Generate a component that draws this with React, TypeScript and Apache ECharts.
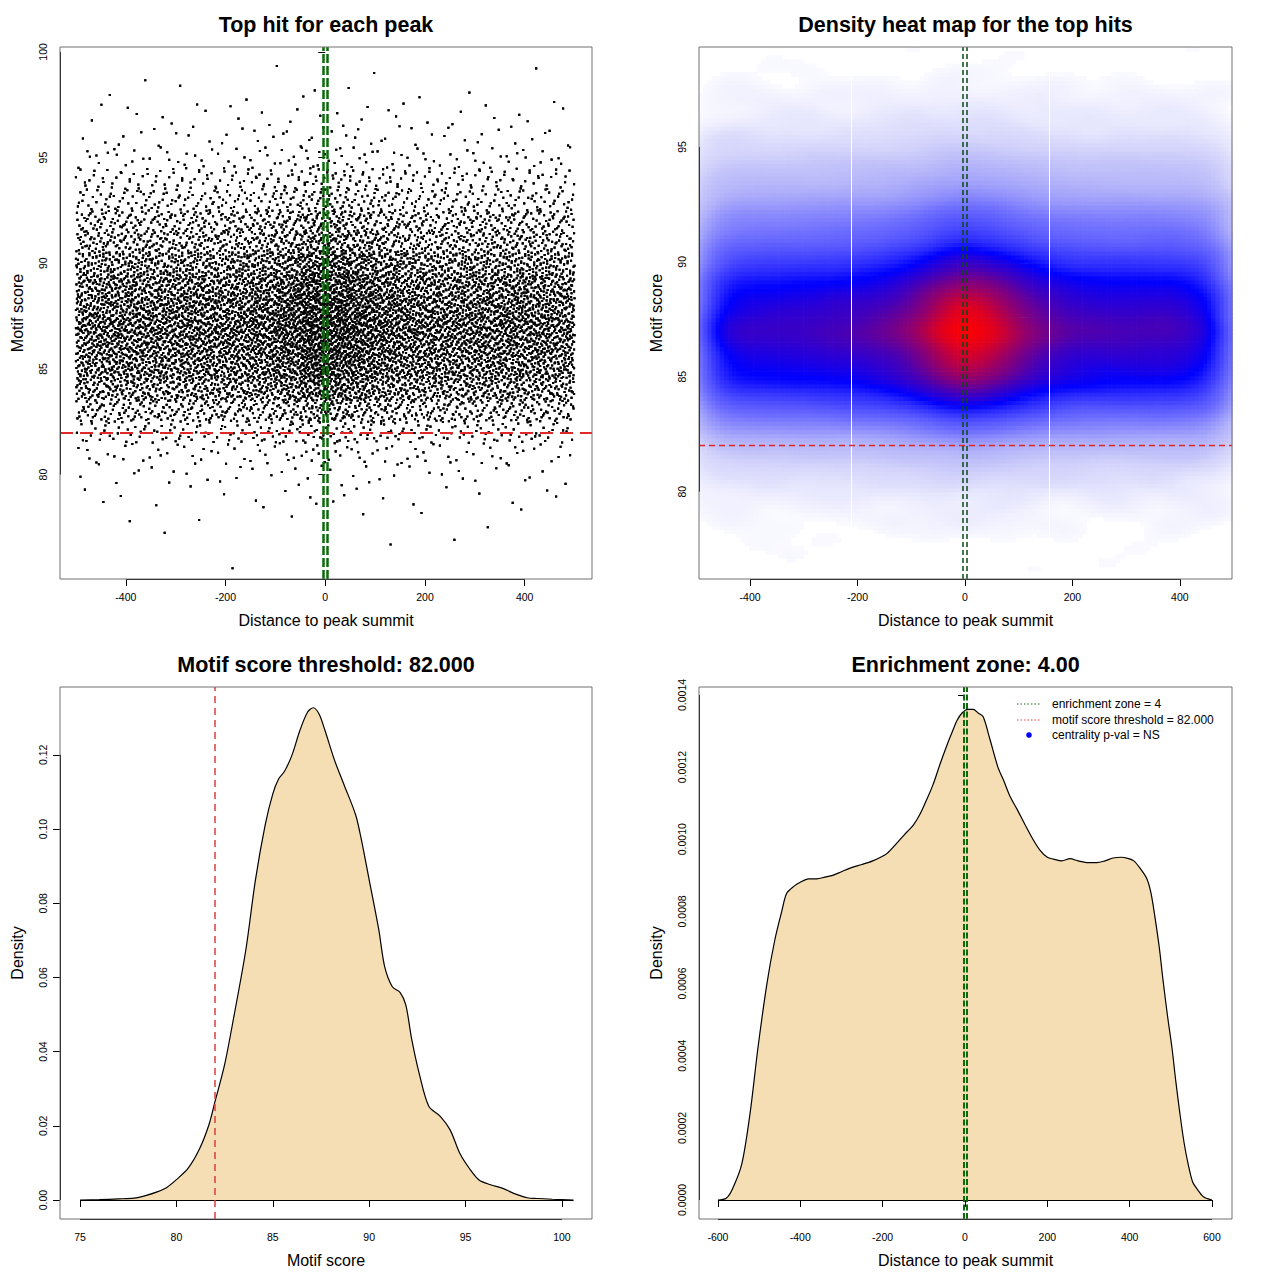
import React, { useEffect, useRef } from "react";
import * as echarts from "echarts";

const FONT = "'Liberation Sans', Arial, Helvetica, sans-serif";

// ---------- data ----------
// Top hits: number of hits per motif-score row (row centre, rows 1 unit tall)
const scoreRows = [76, 77, 78, 79, 80, 81, 82, 83, 84, 85, 86, 87, 88, 89, 90, 91, 92, 93, 94, 95, 96, 97, 98, 99];
const hitsPerScoreRow = [1, 3, 8, 20, 40, 85, 205, 490, 850, 1130, 1240, 1370, 1265, 1115, 890, 620, 490, 280, 190, 92, 46, 28, 11, 4];
// Relative frequency of hits per 50 bp distance bin (bins start at these values)
const distanceBinStarts = [-500, -450, -400, -350, -300, -250, -200, -150, -100, -50, 0, 50, 100, 150, 200, 250, 300, 350, 400, 450];
const distanceBinWeights = [0.86, 0.88, 0.89, 0.9, 0.92, 0.94, 0.97, 1.04, 1.15, 1.38, 1.38, 1.22, 1.08, 0.98, 0.94, 0.94, 0.93, 0.95, 0.9, 0.85];

// Density of motif scores (panel 3)
const scoreDensityCurve: [number, number][] = [
  [75, 0], [76, 0.0001], [77, 0.0003], [77.8, 0.0005], [78.4, 0.0012], [79.0, 0.0022], [79.5, 0.0034],
  [80.0, 0.0055], [80.6, 0.0085], [81.2, 0.0138], [81.7, 0.0205], [82.0, 0.0265], [82.5, 0.0365],
  [83.0, 0.05], [83.6, 0.0674], [84.1, 0.0863], [84.6, 0.101], [85.0, 0.1095], [85.3, 0.1135],
  [85.6, 0.1155], [86.0, 0.12], [86.4, 0.1265], [86.8, 0.1315], [87.1, 0.1327], [87.4, 0.131],
  [87.7, 0.1267], [88.2, 0.1186], [88.7, 0.1119], [89.3, 0.1038], [89.6, 0.097], [90.0, 0.0863],
  [90.5, 0.0728], [90.8, 0.063], [91.2, 0.0575], [91.6, 0.056], [91.9, 0.0526], [92.2, 0.0435],
  [92.6, 0.034], [93.1, 0.0252], [93.7, 0.0225], [94.2, 0.0189], [94.7, 0.0126], [95.2, 0.0085],
  [95.7, 0.0054], [96.3, 0.0041], [96.9, 0.0032], [97.5, 0.0018], [98.2, 0.0006], [98.7, 0.0004],
  [99.5, 0.0002], [100.6, 0],
];

// Density of distances to peak summit (panel 4)
const distanceDensityCurve: [number, number][] = [
  [-600, 0], [-580, 0.000005], [-565, 0.00003], [-542, 0.0001], [-522, 0.00024], [-503, 0.00042],
  [-481, 0.0006], [-462, 0.00072], [-445, 0.0008], [-433, 0.00085], [-415, 0.00087], [-401, 0.00088],
  [-380, 0.00089], [-360, 0.00089], [-340, 0.000895], [-321, 0.0009], [-300, 0.00091], [-279, 0.00092],
  [-250, 0.00093], [-224, 0.00094], [-205, 0.00095], [-190, 0.00096], [-165, 0.00099], [-141, 0.00102],
  [-125, 0.00104], [-109, 0.00107], [-93, 0.00111], [-78, 0.00115], [-60, 0.00121], [-44, 0.00126],
  [-30, 0.0013], [-19, 0.00133], [-7, 0.00135], [7, 0.00136], [20, 0.00136], [32, 0.00135],
  [44, 0.00134], [60, 0.00128], [80, 0.0012], [95, 0.00116], [109, 0.00112], [128, 0.00108],
  [146, 0.00104], [165, 0.001], [182, 0.00097], [200, 0.00095], [215, 0.000945], [235, 0.00094],
  [255, 0.000946], [275, 0.00094], [300, 0.000935], [320, 0.000935], [340, 0.00094], [360, 0.000948],
  [380, 0.00095], [395, 0.000947], [410, 0.00094], [425, 0.00092], [442, 0.00089], [452, 0.00085],
  [462, 0.00078], [472, 0.0007], [481, 0.00061], [492, 0.00051], [503, 0.00042], [512, 0.00033],
  [522, 0.00024], [532, 0.00016], [542, 0.0001], [553, 0.00005], [564, 0.00003], [580, 0.000008], [600, 0],
];

const scoreThreshold = 82;
const enrichmentZone = 4;

const distanceTicks = [-400, -200, 0, 200, 400];
const scoreTicksTop = [80, 85, 90, 95, 100];
const scoreTicksHeat = [80, 85, 90, 95];
const scoreTicksX = [75, 80, 85, 90, 95, 100];
const scoreDensityTicks = [0, 0.02, 0.04, 0.06, 0.08, 0.1, 0.12];
const distanceTicksWide = [-600, -400, -200, 0, 200, 400, 600];
const distanceDensityTicks = [0, 0.0002, 0.0004, 0.0006, 0.0008, 0.001, 0.0012, 0.0014];

const titles = ["Top hit for each peak", "Density heat map for the top hits", "Motif score threshold: 82.000", "Enrichment zone: 4.00"];
const legendLabels = ["enrichment zone = 4", "motif score threshold = 82.000", "centrality p-val = NS"];

// ---------- derived ----------
function halton(i: number, b: number) {
  let f = 1, r = 0;
  while (i > 0) {
    f /= b;
    r += f * (i % b);
    i = Math.floor(i / b);
  }
  return r;
}

function buildHits(): number[][] {
  const total = distanceBinWeights.reduce((a, b) => a + b, 0);
  const cum: number[] = [];
  let c = 0;
  for (const w of distanceBinWeights) {
    c += w / total;
    cum.push(c);
  }
  const pts: number[][] = [];
  let g = 17;
  scoreRows.forEach((s, i) => {
    const n = hitsPerScoreRow[i];
    for (let k = 0; k < n; k++) {
      g++;
      const u = halton(g, 2);
      const v = halton(g, 3);
      let j = 0;
      while (j < cum.length - 1 && cum[j] < u) j++;
      const lo = j === 0 ? 0 : cum[j - 1];
      const frac = (u - lo) / (cum[j] - lo);
      const x = distanceBinStarts[j] + frac * 50;
      const y = s - 0.5 + v;
      pts.push([Math.round(x), Math.round(y * 100) / 100]);
    }
  });
  return pts;
}

const HX0 = -495, HX1 = 497, HY0 = 76.2, HY1 = 99.35, NX = 128, NY = 128;
const HDX = (HX1 - HX0) / NX;
const HDY = (HY1 - HY0) / NY;

function gaussKernel(s: number) {
  const R = Math.ceil(3 * s);
  const k: number[] = [];
  let sum = 0;
  for (let i = -R; i <= R; i++) {
    const v = Math.exp((-0.5 * i * i) / (s * s));
    k.push(v);
    sum += v;
  }
  return { R, k: k.map((v) => v / sum) };
}

// Smoothed 2D density of the hits, expressed relative to the density of the flank band
function buildHeat(pts: number[][]): number[][] {
  const grid = new Float64Array(NX * NY);
  for (const p of pts) {
    const ix = Math.floor((p[0] - HX0) / HDX);
    const iy = Math.floor((p[1] - HY0) / HDY);
    if (ix >= 0 && ix < NX && iy >= 0 && iy < NY) grid[iy * NX + ix] += 1;
  }
  const kx = gaussKernel(36 / HDX);
  const ky = gaussKernel(0.42 / HDY);
  const tmp = new Float64Array(NX * NY);
  for (let iy = 0; iy < NY; iy++) {
    for (let ix = 0; ix < NX; ix++) {
      let s = 0;
      for (let q = -kx.R; q <= kx.R; q++) {
        const jx = ix + q;
        if (jx >= 0 && jx < NX) s += grid[iy * NX + jx] * kx.k[q + kx.R];
      }
      tmp[iy * NX + ix] = s;
    }
  }
  const out = new Float64Array(NX * NY);
  let side = 0;
  for (let iy = 0; iy < NY; iy++) {
    for (let ix = 0; ix < NX; ix++) {
      let s = 0;
      for (let q = -ky.R; q <= ky.R; q++) {
        const jy = iy + q;
        if (jy >= 0 && jy < NY) s += tmp[jy * NX + ix] * ky.k[q + ky.R];
      }
      out[iy * NX + ix] = s;
      const xc = HX0 + (ix + 0.5) * HDX;
      if (xc > -420 && xc < -230 && s > side) side = s;
    }
  }
  const cells: number[][] = [];
  for (let iy = 0; iy < NY; iy++) {
    for (let ix = 0; ix < NX; ix++) {
      const r = out[iy * NX + ix] / side;
      if (r > 0.008) cells.push([HX0 + (ix + 0.5) * HDX, HY0 + (iy + 0.5) * HDY, Math.round(r * 10000) / 10000]);
    }
  }
  return cells;
}

// colour ramp: white -> blue -> red, keyed on density relative to the flank band
const rampStops: number[][] = [
  [0, 255, 255, 255], [0.02, 241, 241, 255], [0.055, 220, 220, 252], [0.12, 196, 196, 250],
  [0.2, 176, 176, 250], [0.3, 146, 146, 252], [0.42, 112, 112, 255], [0.55, 82, 82, 255],
  [0.7, 40, 40, 255], [0.8, 0, 0, 255], [0.9, 38, 0, 218], [1.0, 70, 0, 184],
  [1.2, 150, 0, 105], [1.35, 222, 0, 33], [1.45, 255, 0, 0],
];
function ramp(t: number) {
  for (let i = 1; i < rampStops.length; i++) {
    if (t <= rampStops[i][0]) {
      const a = rampStops[i - 1], b = rampStops[i];
      const f = (t - a[0]) / (b[0] - a[0]);
      const r = Math.round(a[1] + (b[1] - a[1]) * f);
      const g = Math.round(a[2] + (b[2] - a[2]) * f);
      const bl = Math.round(a[3] + (b[3] - a[3]) * f);
      return `rgb(${r},${g},${bl})`;
    }
  }
  return "rgb(255,0,0)";
}

// ---------- layout ----------
const grids = [
  { left: 60, top: 47, width: 532, height: 532 },
  { left: 699, top: 47, width: 533, height: 532 },
  { left: 60, top: 687, width: 532, height: 532 },
  { left: 699, top: 687, width: 533, height: 532 },
];
const ranges = [
  { x: [-532, 535], y: [75.06, 100.23] },
  { x: [HX0, HX1], y: [HY0, HY1] },
  { x: [73.96, 101.56], y: [-0.00512, 0.1383] },
  { x: [-646, 648.6], y: [-0.0000527, 0.001422] },
];

function valueAxis(gi: number, isY: boolean, ticks: number[], fmt: (v: number) => string, name: string, nameGap: number) {
  const r = isY ? ranges[gi].y : ranges[gi].x;
  return {
    type: "value",
    gridIndex: gi,
    min: r[0],
    max: r[1],
    name,
    nameLocation: "middle",
    nameGap,
    nameTextStyle: { fontSize: 16, color: "#000", fontFamily: FONT },
    axisLine: { show: false },
    axisTick: { show: true, length: 7, lineStyle: { color: "#000", width: 1 }, customValues: ticks },
    axisLabel: {
      show: true,
      fontSize: 10.5,
      color: "#000",
      fontFamily: FONT,
      margin: 12,
      rotate: isY ? 90 : 0,
      customValues: ticks,
      formatter: fmt,
      hideOverlap: false,
    },
    splitLine: { show: false },
  };
}

const intFmt = (v: number) => String(Math.round(v));
const f2 = (v: number) => v.toFixed(2);
const f4 = (v: number) => v.toFixed(4);

function axisSegments(gi: number, xt: number[], yt: number[]) {
  const xr = ranges[gi].x, yr = ranges[gi].y;
  const st = { color: "#000", width: 1, type: "solid" };
  return [
    [{ coord: [xt[0], yr[0]], lineStyle: st }, { coord: [xt[xt.length - 1], yr[0]] }],
    [{ coord: [xr[0], yt[0]], lineStyle: st }, { coord: [xr[0], yt[yt.length - 1]] }],
  ];
}

function buildOption() {
  const hits = buildHits();
  const heat = buildHeat(hits);

  const ml = (data: any[]) => ({
    silent: true,
    symbol: ["none", "none"],
    label: { show: false },
    emphasis: { disabled: true },
    animation: false,
    data,
  });

  const green = "#0b6b0b";
  const red = "#e02828";

  return {
    animation: false,
    backgroundColor: "#fff",
    textStyle: { fontFamily: FONT },
    grid: grids.map((g) => ({ ...g, show: true, borderColor: "#707070", borderWidth: 1, backgroundColor: "transparent", z: 10 })),
    xAxis: [
      valueAxis(0, false, distanceTicks, intFmt, "Distance to peak summit", 33),
      valueAxis(1, false, distanceTicks, intFmt, "Distance to peak summit", 33),
      valueAxis(2, false, scoreTicksX, intFmt, "Motif score", 33),
      valueAxis(3, false, distanceTicksWide, intFmt, "Distance to peak summit", 33),
    ],
    yAxis: [
      valueAxis(0, true, scoreTicksTop, intFmt, "Motif score", 35),
      valueAxis(1, true, scoreTicksHeat, intFmt, "Motif score", 35),
      valueAxis(2, true, scoreDensityTicks, f2, "Density", 35),
      valueAxis(3, true, distanceDensityTicks, f4, "Density", 35),
    ],
    series: [
      {
        type: "scatter",
        xAxisIndex: 0,
        yAxisIndex: 0,
        data: hits,
        symbol: "rect",
        symbolSize: 2.1,
        itemStyle: { color: "#000" },
        large: true,
        largeThreshold: 500,
        silent: true,
        markLine: ml([
          { yAxis: scoreThreshold, lineStyle: { color: red, width: 2, type: [13, 7] } },
          { xAxis: -enrichmentZone, lineStyle: { color: green, width: 2.5, type: [9, 3] } },
          { xAxis: enrichmentZone, lineStyle: { color: green, width: 2.5, type: [9, 3] } },
          ...axisSegments(0, distanceTicks, scoreTicksTop),
        ]),
      },
      {
        type: "custom",
        xAxisIndex: 1,
        yAxisIndex: 1,
        data: heat,
        clip: true,
        silent: true,
        renderItem: (params: any, api: any) => {
          const x = api.value(0), y = api.value(1), t = api.value(2);
          const p0 = api.coord([x - HDX / 2, y + HDY / 2]);
          const p1 = api.coord([x + HDX / 2, y - HDY / 2]);
          return {
            type: "rect",
            shape: { x: p0[0], y: p0[1], width: p1[0] - p0[0] + 0.7, height: p1[1] - p0[1] + 0.7 },
            style: { fill: ramp(t) },
            silent: true,
          };
        },
        markLine: ml([
          { xAxis: -212, lineStyle: { color: "#ffffff", width: 1, type: "solid" } },
          { xAxis: 156, lineStyle: { color: "#ffffff", width: 1, type: "solid" } },
          { yAxis: scoreThreshold, lineStyle: { color: red, width: 1.3, type: [6, 4] } },
          { xAxis: -enrichmentZone, lineStyle: { color: "#0a4a14", width: 1.5, type: [5, 3] } },
          { xAxis: enrichmentZone, lineStyle: { color: "#0a4a14", width: 1.5, type: [5, 3] } },
          ...axisSegments(1, distanceTicks, scoreTicksHeat),
        ]),
      },
      {
        type: "line",
        xAxisIndex: 2,
        yAxisIndex: 2,
        data: scoreDensityCurve,
        smooth: 0.3,
        showSymbol: false,
        silent: true,
        lineStyle: { color: "#000", width: 1.2 },
        areaStyle: { color: "#F5DEB3", opacity: 1 },
        markLine: ml([
          [{ coord: [scoreDensityCurve[0][0], 0], lineStyle: { color: "#000", width: 1.2, type: "solid" } }, { coord: [scoreDensityCurve[scoreDensityCurve.length - 1][0], 0] }],
          { xAxis: scoreThreshold, lineStyle: { color: "#e03c3c", width: 1.5, type: [7, 5] } },
          ...axisSegments(2, scoreTicksX, scoreDensityTicks),
        ]),
      },
      {
        type: "line",
        xAxisIndex: 3,
        yAxisIndex: 3,
        data: distanceDensityCurve,
        smooth: 0.3,
        showSymbol: false,
        silent: true,
        lineStyle: { color: "#000", width: 1.2 },
        areaStyle: { color: "#F5DEB3", opacity: 1 },
        markLine: ml([
          [{ coord: [distanceDensityCurve[0][0], 0], lineStyle: { color: "#000", width: 1.2, type: "solid" } }, { coord: [distanceDensityCurve[distanceDensityCurve.length - 1][0], 0] }],
          { xAxis: -enrichmentZone, lineStyle: { color: green, width: 2, type: [6, 2.5] } },
          { xAxis: enrichmentZone, lineStyle: { color: green, width: 2, type: [6, 2.5] } },
          ...axisSegments(3, distanceTicksWide, distanceDensityTicks),
        ]),
      },
    ],
    graphic: [
      ...titles.map((t, i) => ({
        type: "text",
        x: grids[i].left + grids[i].width / 2,
        y: grids[i].top - 22,
        silent: true,
        style: { text: t, fontSize: 21.5, fontWeight: "bold", fontFamily: FONT, fill: "#000", align: "center", verticalAlign: "middle" },
      })),
      { type: "line", silent: true, shape: { x1: 1017, y1: 704, x2: 1040, y2: 704 }, style: { stroke: "#1a6a1a", lineWidth: 1, lineDash: [1.5, 2] } },
      { type: "line", silent: true, shape: { x1: 1017, y1: 720, x2: 1040, y2: 720 }, style: { stroke: "#e04040", lineWidth: 1, lineDash: [1.5, 2] } },
      { type: "circle", silent: true, shape: { cx: 1029, cy: 735, r: 2.8 }, style: { fill: "#0000ff" } },
      ...legendLabels.map((t, i) => ({
        type: "text",
        x: 1052,
        y: 704 + i * 15.7,
        silent: true,
        style: { text: t, fontSize: 12, fontFamily: FONT, fill: "#000", align: "left", verticalAlign: "middle" },
      })),
    ],
  };
}

export default function App() {
  const ref = useRef<HTMLDivElement>(null);
  useEffect(() => {
    if (!ref.current) return;
    const chart = echarts.init(ref.current, undefined, { renderer: "svg" });
    chart.setOption(buildOption() as any);
    return () => chart.dispose();
  }, []);
  return <div ref={ref} style={{ position: "absolute", left: 0, top: 0, width: 1280, height: 1280, background: "#fff" }} />;
}
